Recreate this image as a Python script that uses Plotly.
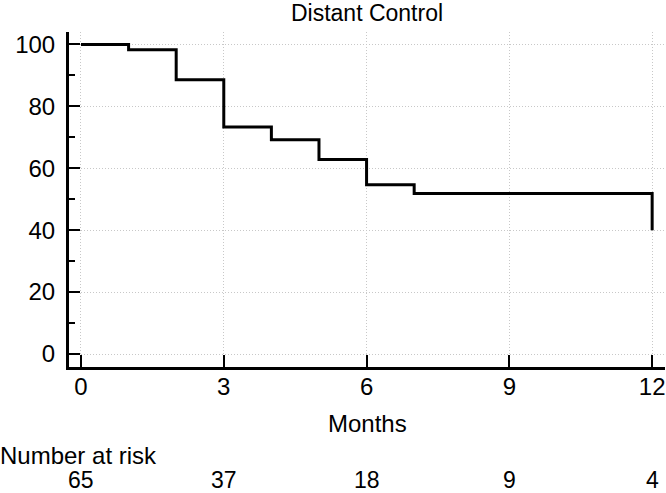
import plotly.graph_objects as go

# Kaplan-Meier steps (months, % free of distant failure)
meses = [0, 1, 2, 3, 4, 5, 6, 7, 12, 12]
control = [100, 98.3, 88.6, 73.3, 69.2, 62.8, 54.7, 51.8, 51.8, 40]

# numero en riesgo
tiempos_riesgo = [0, 3, 6, 9, 12]
en_riesgo = [65, 37, 18, 9, 4]

fuente = 'Liberation Sans, Arial, sans-serif'
tam = 24

fig = go.Figure()

fig.add_trace(go.Scatter(
    x=meses,
    y=control,
    mode='lines',
    line=dict(color='black', width=3, shape='hv'),
    showlegend=False,
    hoverinfo='skip',
    cliponaxis=False
))

# titulo del eje x
fig.add_annotation(
    x=0.5, xref='paper', xanchor='center',
    y=-0.17, yref='paper', yanchor='middle',
    text='Months', showarrow=False,
    font=dict(size=tam, color='black', family=fuente)
)

# filas de numero en riesgo
fig.add_annotation(
    x=0, xref='paper', xanchor='left',
    y=-0.263, yref='paper', yanchor='middle',
    text='Number at risk', showarrow=False,
    xshift=-71,
    font=dict(size=tam, color='black', family=fuente)
)
for t, n in zip(tiempos_riesgo, en_riesgo):
    fig.add_annotation(
        x=t, xref='x', xanchor='center',
        y=-0.337, yref='paper', yanchor='middle',
        text=str(n), showarrow=False,
        font=dict(size=23, color='black', family=fuente)
    )

fig.update_layout(
    width=666,
    height=493,
    margin=dict(l=69, r=1, t=32, b=126),
    paper_bgcolor='white',
    plot_bgcolor='white',
    font=dict(family=fuente, size=tam, color='black'),
    title=dict(
        text='Distant Control',
        x=0.5, xref='paper', xanchor='center',
        y=1 - 13 / 493, yanchor='middle',
        font=dict(size=23, color='black', family=fuente)
    ),
    xaxis=dict(
        range=[-0.252, 12.27],
        tickvals=tiempos_riesgo,
        ticks='inside', ticklen=12, tickwidth=2, tickcolor='black',
        showline=True, linecolor='black', linewidth=3,
        showgrid=True, gridcolor='#c8c8c8', griddash='1px,2px', gridwidth=1,
        zeroline=False,
        ticklabelstandoff=-4
    ),
    yaxis=dict(
        range=[-4.2, 104],
        tickvals=[0, 20, 40, 60, 80, 100],
        ticks='inside', ticklen=11, tickwidth=2, tickcolor='black',
        minor=dict(tickvals=[10, 30, 50, 70, 90], ticks='inside', ticklen=6,
                   tickwidth=2, tickcolor='black', showgrid=False),
        showline=True, linecolor='black', linewidth=3,
        showgrid=True, gridcolor='#c8c8c8', griddash='1px,2px', gridwidth=1,
        zeroline=False,
        ticklabelstandoff=6
    )
)

fig.write_html("out.html", config={'displayModeBar': False},
               post_script="document.body.style.margin='0';")
